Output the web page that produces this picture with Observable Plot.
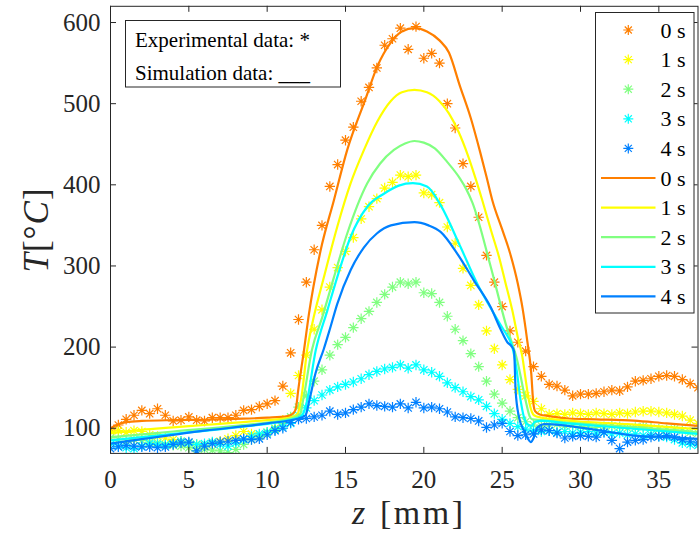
<!DOCTYPE html>
<html><head><meta charset="utf-8">
<script src="https://cdn.jsdelivr.net/npm/d3@7"></script>
<script src="https://cdn.jsdelivr.net/npm/@observablehq/plot@0.6"></script>
<style>body{margin:0;background:#fff} svg{display:block}</style>
</head><body><div id="chart"></div>
<script>
const times = ["0 s","1 s","2 s","3 s","4 s"];
const colors = ["#ff7f00","#ffff00","#80ff80","#00ffff","#0080ff"];
const xTicks = [0,5,10,15,20,25,30,35];
const yTicks = [100,200,300,400,500,600];

// experimental data (asterisks)
const zExp = [0,0.5,1,1.5,2,2.5,3,3.5,4,4.5,5,5.5,6,6.5,7,7.5,8,8.5,9,9.5,10,10.5,11,11.5,12,12.5,13,13.5,14,14.5,15,15.5,16,16.5,17,17.5,18,18.5,19,19.5,20,20.5,21,21.5,22,22.5,23,23.5,24,24.5,25,25.5,26,26.5,27,27.5,28,28.5,29,29.5,30,30.5,31,31.5,32,32.5,33,33.5,34,34.5,35,35.5,36,36.5,37,37.5];
const exp0 = [99,104,111,116,122,118,124,116,109,110,114,110,109,113,113,113,116,122,123,127,130,134,152,193,234,280,320,350,398,425,455,471,503,520,544,572,580,593,567,595,556,562,550,500,470,426,398,360,313,280,250,220,206,195,176,164,154,152,147,140,142,142,143,145,147,146,151,158,159,161,164,165,164,160,155,150];
const exp1 = [96,97,95,97,96,92,90,88,86,84,82,80,79,82,84,87,91,96,93,91,95,99,110,143,165,190,222,246,274,298,318,335,358,373,383,396,403,412,410,412,390,388,378,348,328,297,276,252,220,198,178,160,148,140,133,124,117,118,117,119,118,117,119,118,117,119,118,120,121,121,120,119,117,115,110,106];
const exp2 = [88,86,84,86,85,83,82,80,79,78,76,75,74,73,72,70,74,80,86,90,94,100,106,114,126,140,158,172,190,203,212,224,235,244,255,265,274,280,278,280,267,266,255,238,222,208,192,176,158,142,131,121,113,108,104,103,104,105,103,104,102,103,101,102,103,102,100,101,102,100,99,98,99,97,95,94];
const exp3 = [80,78,76,75,78,81,80,79,81,84,82,80,81,83,80,78,82,86,90,93,95,98,102,106,116,125,134,141,147,151,154,157,161,166,170,173,175,178,174,178,172,169,164,156,150,145,139,135,127,118,111,106,102,99,97,96,97,95,96,94,95,96,94,95,93,94,92,93,91,92,90,89,86,82,80,79];
const exp4 = [75,77,79,78,77,77,76,77,80,82,83,72,78,81,83,84,85,87,86,87,92,97,100,107,111,112,114,116,121,117,119,123,126,130,128,127,126,130,125,132,125,126,124,120,114,113,112,109,101,104,106,96,91,92,93,98,97,94,88,90,91,90,89,95,85,75,83,85,86,89,90,91,89,86,84,82];

// simulation data (lines)
const simZ0 = [0,0.4,1,2,4,6,8,10,11.3,11.7,11.85,11.97,12.35,12.66,13.41,14.26,15.11,16.28,17.03,17.88,18.6,19.4,20.2,21.0,21.6,22.3,23.0,23.6,24.0,24.37,25.0,25.5,26.0,26.3,26.6,26.86,26.97,27.1,27.4,28,29.2,31,33.4,35.5,37.5];
const simT0 = [100,104,107.5,109,110,110.5,111.5,113,115,119,126,145,196,240,319,381,443,506,546,575,589,593,589,578,563,522,482,440,410,381,345,316,278,248,208,167,135,121,117,115,112,111,109.5,106,103];
const simZ1 = [0,2,4,6,8,10,11.5,11.95,12.2,12.55,12.88,13.62,14.47,15.33,16.18,17.03,17.88,18.6,19.4,20.2,21.0,21.6,22.2,22.8,23.3,23.73,24.3,24.8,25.2,25.65,26.0,26.29,26.5,26.71,26.9,27.03,27.5,29.16,33,37.5];
const simT1 = [94,98,101,104,107,110,113,118,140,196,229,286,348,402,443,478,503,514,517,514,503,488,466,437,408,381,343,311,280,245,212,188,160,134,120,116,113,109.5,105,99];
const simZ2 = [0,4,8,11.5,12.1,12.3,12.85,13.52,14.26,15.11,16.39,17.2,18.09,18.8,19.4,20.0,20.7,21.5,22.3,22.7,23.1,24.27,25.22,25.97,26.5,26.75,26.92,27.5,29.16,33,37.5];
const simT2 = [89,96,103,112,117,135,196,237,286,340,402,426,443,451,454,452,445,428,408,395,378,299,229,183,134,115,111,110,107,102,95];
const simZ3 = [0,4,8,12.0,12.3,12.5,13.1,13.84,14.47,15.33,16.39,17.45,18.4,19.3,20.2,21.07,22.35,23.41,24.48,25.0,25.33,25.65,25.9,26.18,26.4,26.6,26.85,27.1,27.5,29.16,33,37.5];
const simT3 = [85,93,101,113,118,130,196,245,286,336,373,389,399,402,398,375,323,278,241,224,214,200,175,134,113,105,103,108,109,106,100,93];
const simZ4 = [0,6,10,12.0,12.45,12.7,13.09,13.62,14.0,14.47,15.33,16.18,17.0,17.9,19.4,20.3,21.07,22.14,23.2,24.27,24.9,25.33,25.6,25.76,25.86,26.07,26.39,26.65,26.82,27.03,27.24,27.67,29.16,31.29,33.42,35.55,37.5];
const simT4 = [81,97,106,112,116,135,168,198,222,253,295,323,340,350,354,350,342,315,282,249,222,206,201,195,146,114,97,87,83,89,101,105,103,97,91,89,87];

const expSeries = [exp0,exp1,exp2,exp3,exp4];
const simSeries = [[simZ0,simT0],[simZ1,simT1],[simZ2,simT2],[simZ3,simT3],[simZ4,simT4]];
const expData = expSeries.flatMap((arr,k)=>arr.map((T,i)=>({z:zExp[i],T,k})));
const simData = simSeries.flatMap(([zs,Ts],k)=>zs.map((z,i)=>({z,T:Ts[i],k})));

const W=699,H=535,mT=5.8,mB=82.1,mL=110,mR=1.5;
const pH=H-mT-mB, pW=W-mL-mR;
const axisCol="#262626";
const serif="'Liberation Serif','Times New Roman',serif";

const star = {draw(ctx,size){const r=Math.sqrt(size/Math.PI), d=r*Math.SQRT1_2;
  ctx.moveTo(-r,0);ctx.lineTo(r,0);ctx.moveTo(0,-r);ctx.lineTo(0,r);
  ctx.moveTo(-d,-d);ctx.lineTo(d,d);ctx.moveTo(-d,d);ctx.lineTo(d,-d);}};

const chart = Plot.plot({
  width:W,height:H,marginTop:mT,marginBottom:mB,marginLeft:mL,marginRight:mR,
  style:{background:"#fff",fontFamily:serif},
  x:{domain:[0,37.5],axis:null},
  y:{domain:[69,620],axis:null},
  color:{type:"ordinal",domain:[0,1,2,3,4],range:colors},
  marks:[
    Plot.dot(expData,{x:"z",y:"T",stroke:"k",fill:"none",r:5.2,symbol:star,strokeWidth:1.2,clip:true}),
    Plot.line(simData,{x:"z",y:"T",z:"k",stroke:"k",strokeWidth:2.2,curve:"monotone-x",clip:true}),
    Plot.frame({stroke:axisCol,strokeWidth:1}),
    Plot.ruleX(xTicks,{x:d=>d,insetTop:pH-6,stroke:axisCol}),
    Plot.ruleX(xTicks,{x:d=>d,insetBottom:pH-6,stroke:axisCol}),
    Plot.ruleY(yTicks,{y:d=>d,insetRight:pW-6,stroke:axisCol}),
    Plot.ruleY(yTicks,{y:d=>d,insetLeft:pW-6,stroke:axisCol}),
    Plot.text(xTicks,{x:d=>d,frameAnchor:"bottom",dy:34.4,lineAnchor:"bottom",text:d=>String(d),fontSize:25,fontFamily:serif,fill:axisCol}),
    Plot.text(yTicks,{y:d=>d,frameAnchor:"left",dx:-10,textAnchor:"end",lineAnchor:"middle",text:d=>String(d),fontSize:25,fontFamily:serif,fill:axisCol})
  ]
});
const svg = d3.select(chart);

// axis titles
const xl = svg.append("text").attr("x",352).attr("y",524).attr("text-anchor","start")
  .attr("font-family",serif).attr("font-size",34).attr("fill",axisCol);
xl.append("tspan").attr("font-style","italic").text("z");
xl.append("tspan").attr("x",380).attr("letter-spacing",2.5).text("[mm]");
const yl = svg.append("text").attr("transform","translate(48,230) rotate(-90)").attr("text-anchor","middle")
  .attr("font-family",serif).attr("font-size",35).attr("letter-spacing",1).attr("fill",axisCol);
yl.append("tspan").attr("font-style","italic").text("T");
yl.append("tspan").text("[°");
yl.append("tspan").attr("font-style","italic").text("C");
yl.append("tspan").text("]");

// annotation box
svg.append("rect").attr("x",125.5).attr("y",20.5).attr("width",215).attr("height",66.5)
  .attr("fill","#fff").attr("stroke",axisCol).attr("stroke-width",1);
svg.append("text").attr("x",135).attr("y",46.5).attr("text-anchor","start").attr("font-family",serif).attr("font-size",21).attr("fill","#000").text("Experimental data: *");
svg.append("text").attr("x",135).attr("y",79.5).attr("text-anchor","start").attr("font-family",serif).attr("font-size",21).attr("fill","#000").text("Simulation data: ___");

// legend
const lg = svg.append("g").attr("text-anchor","start");
lg.append("rect").attr("x",595.5).attr("y",12.5).attr("width",98.5).attr("height",300.5)
  .attr("fill","#fff").attr("stroke",axisCol).attr("stroke-width",1);
const rowY = i => 30 + i*29.6;
const starPath = d3.symbol(star, Math.PI*25)();
times.forEach((t,i)=>{
  lg.append("path").attr("d",starPath).attr("transform",`translate(628.3,${rowY(i)})`)
    .attr("fill","none").attr("stroke",colors[i]).attr("stroke-width",1.2);
  lg.append("text").attr("x",660.5).attr("y",rowY(i)+7.5).attr("text-anchor","start").attr("font-family",serif).attr("font-size",22).attr("fill","#000").text(t);
});
times.forEach((t,i)=>{
  const y=rowY(i+5);
  lg.append("line").attr("x1",601).attr("x2",655.5).attr("y1",y).attr("y2",y).attr("stroke",colors[i]).attr("stroke-width",2.2);
  lg.append("text").attr("x",660.5).attr("y",y+7.5).attr("text-anchor","start").attr("font-family",serif).attr("font-size",22).attr("fill","#000").text(t);
});
document.getElementById("chart").appendChild(chart);
</script>
</body></html>
